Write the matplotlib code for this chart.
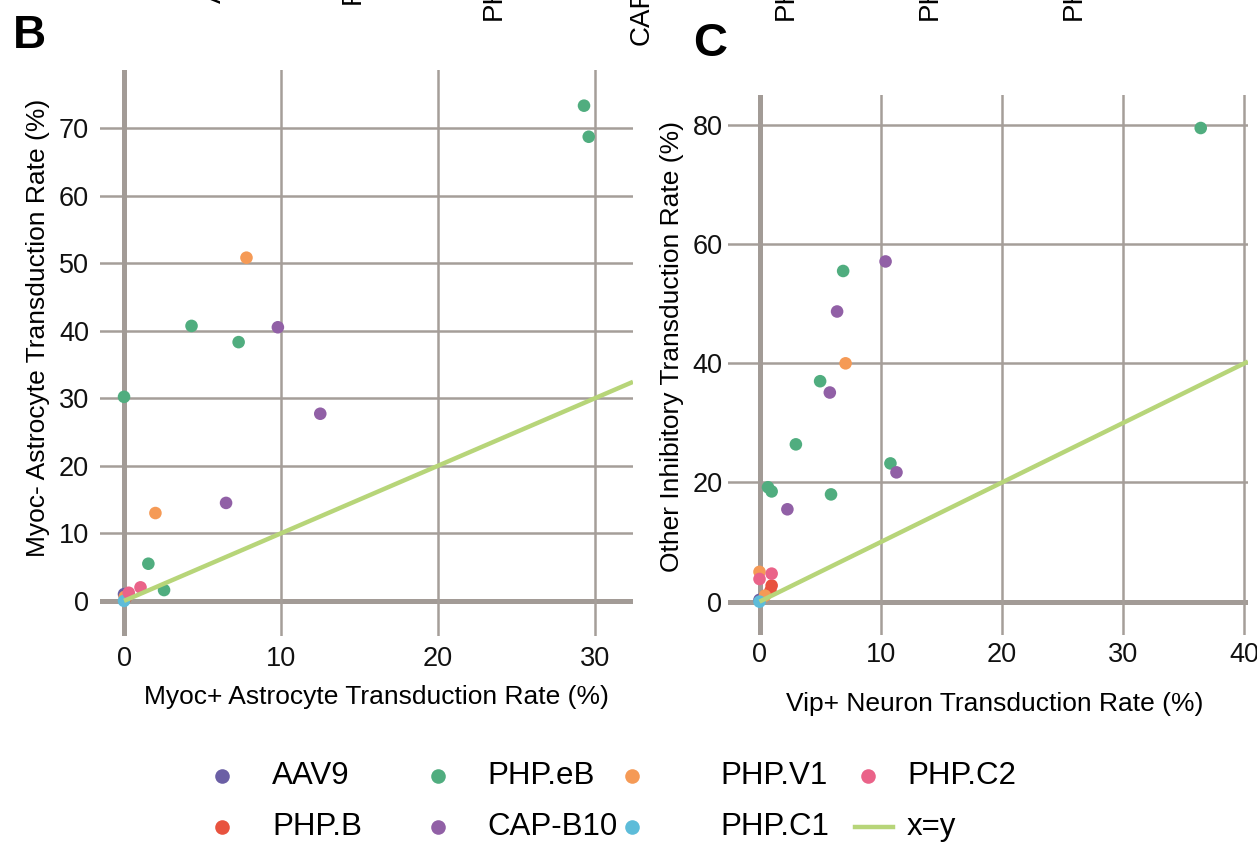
import matplotlib
matplotlib.use("Agg")
import matplotlib.pyplot as plt

plt.rcParams['font.family'] = ['Liberation Sans', 'DejaVu Sans']

W, H = 1257, 846
DPI = 100

# ---------------- data ----------------
variants = ["AAV9", "PHP.B", "PHP.eB", "CAP-B10", "PHP.V1", "PHP.C1", "PHP.C2"]
colors = {
    "AAV9": "#6b5fa5",
    "PHP.B": "#e8533f",
    "PHP.eB": "#50ad7f",
    "CAP-B10": "#9160a6",
    "PHP.V1": "#f59a56",
    "PHP.C1": "#5dbcd9",
    "PHP.C2": "#ea6389",
}

# Panel B: Myoc+ (x) vs Myoc- (y) astrocyte transduction rate (%)
b_x = {
    "AAV9": [0.0],
    "PHP.B": [0.1],
    "PHP.eB": [29.3, 29.6, 4.3, 7.3, 0.0, 1.55, 2.55],
    "CAP-B10": [9.8, 12.5, 6.5],
    "PHP.V1": [7.8, 2.0, 0.05],
    "PHP.C1": [0.0],
    "PHP.C2": [1.05, 0.3],
}
b_y = {
    "AAV9": [1.0],
    "PHP.B": [0.4],
    "PHP.eB": [73.3, 68.7, 40.7, 38.3, 30.2, 5.5, 1.6],
    "CAP-B10": [40.5, 27.7, 14.5],
    "PHP.V1": [50.8, 13.0, 0.6],
    "PHP.C1": [0.0],
    "PHP.C2": [2.0, 1.2],
}

# Panel C: Vip+ neuron (x) vs other inhibitory (y) transduction rate (%)
c_x = {
    "AAV9": [0.0],
    "PHP.B": [1.0, 0.9],
    "PHP.eB": [36.4, 6.9, 5.0, 3.0, 0.7, 1.0, 5.9, 10.8],
    "CAP-B10": [10.4, 6.4, 5.8, 2.3, 11.3],
    "PHP.V1": [7.1, 0.0, 0.45],
    "PHP.C1": [0.0],
    "PHP.C2": [0.0, 1.0],
}
c_y = {
    "AAV9": [0.3],
    "PHP.B": [2.7, 1.8],
    "PHP.eB": [79.5, 55.5, 37.0, 26.4, 19.2, 18.5, 18.0, 23.2],
    "CAP-B10": [57.1, 48.7, 35.1, 15.5, 21.7],
    "PHP.V1": [40.0, 5.0, 1.0],
    "PHP.C1": [0.0],
    "PHP.C2": [3.8, 4.7],
}

b_xticks = [0, 10, 20, 30]
b_yticks = [0, 10, 20, 30, 40, 50, 60, 70]
c_xticks = [0, 10, 20, 30, 40]
c_yticks = [0, 20, 40, 60, 80]

b_xlabel = "Myoc+ Astrocyte Transduction Rate (%)"
b_ylabel = "Myoc- Astrocyte Transduction Rate (%)"
c_xlabel = "Vip+ Neuron Transduction Rate (%)"
c_ylabel = "Other Inhibitory Transduction Rate (%)"

top_labels = ["AAV9", "PHP.B", "PHP.eB", "CAP-B10", "PHP.V1", "PHP.C1", "PHP.C2"]

# ---------------- style ----------------
GRID = "#a59e99"
GRID0 = "#a29b96"
LINE = "#b7d579"
TICK_FS = 19.5
LABEL_FS = 19
LEG_FS = 22.5

fig = plt.figure(figsize=(W / DPI, H / DPI), dpi=DPI)


def px_axes(l, r, t, b):
    return fig.add_axes([l / W, 1 - b / H, (r - l) / W, (b - t) / H])


def panel(ax, xs, ys, xticks, yticks, xlim, ylim, xpad, ypad):
    ax.set_xlim(*xlim)
    ax.set_ylim(*ylim)
    for s in ax.spines.values():
        s.set_visible(False)
    for t in yticks:
        if t == 0:
            ax.axhline(t, color=GRID0, lw=3.6, zorder=1)
        else:
            ax.axhline(t, color=GRID, lw=1.8, zorder=1)
    for t in xticks:
        if t == 0:
            ax.axvline(t, color=GRID0, lw=3.6, zorder=1)
        else:
            ax.axvline(t, color=GRID, lw=1.8, zorder=1)
    ax.set_xticks(xticks)
    ax.set_yticks(yticks)
    ax.tick_params(length=0, labelsize=TICK_FS, colors="#111111")
    ax.tick_params(axis="x", pad=xpad)
    ax.tick_params(axis="y", pad=ypad)
    for v in variants:
        ax.scatter(xs[v], ys[v], s=82, color=colors[v], edgecolors="none",
                   zorder=3, clip_on=False)
    ax.plot([0, xlim[1]], [0, xlim[1]], color=LINE, lw=3.2, zorder=4,
            solid_capstyle="butt")


axB = px_axes(100, 633, 70, 636)
panel(axB, b_x, b_y, b_xticks, b_yticks, (-1.53, 32.42), (-5.2, 78.58), 7, 8)

axC = px_axes(728, 1248, 95, 635)
panel(axC, c_x, c_y, c_xticks, c_yticks, (-2.6, 40.3), (-5.6, 85.04), 5, 4)

# axis labels
fig.text(376 / W, 1 - 697 / H, b_xlabel, ha="center", va="center", fontsize=LABEL_FS)
fig.text(38 / W, 1 - 328 / H, b_ylabel, ha="center", va="center", fontsize=LABEL_FS, rotation=90)
fig.text(995 / W, 1 - 704 / H, c_xlabel, ha="center", va="center", fontsize=LABEL_FS)
fig.text(672 / W, 1 - 347 / H, c_ylabel, ha="center", va="center", fontsize=LABEL_FS, rotation=90)

# panel letters
fig.text(13 / W, 1 - 48 / H, "B", fontsize=33, fontweight="bold", ha="left", va="baseline")
fig.text(693 / W, 1 - 56 / H, "C", fontsize=34, fontweight="bold", ha="left", va="baseline")

# cut-off tick labels of the panel above
top_x = [214, 353, 494, 642, 786, 930, 1074]
top_b = [3, 4, 20, 45, 20, 20, 20]
for lab, x, b in zip(top_labels, top_x, top_b):
    fig.text(x / W, 1 - b / H, lab, rotation=90, ha="center", va="bottom", fontsize=20)

# legend
legax = fig.add_axes([0, 0, 1, 1])
legax.set_xlim(0, W)
legax.set_ylim(H, 0)
legax.axis("off")
order = ["AAV9", "PHP.B", "PHP.eB", "CAP-B10", "PHP.V1", "PHP.C1", "PHP.C2"]
col_mx = [222, 438, 632, 868]
col_tx = [272, 487, 720, 907]
row_y = [776, 827]
for i, v in enumerate(order):
    c, r = divmod(i, 2)
    legax.plot([col_mx[c]], [row_y[r]], "o", ms=10.5, color=colors[v], mec="none")
    legax.text(col_tx[c], row_y[r], v, ha="left", va="center", fontsize=LEG_FS)
legax.plot([855, 893], [row_y[1], row_y[1]], color=LINE, lw=3.2)
legax.text(907, row_y[1], "x=y", ha="left", va="center", fontsize=LEG_FS)

fig.savefig("out.png", dpi=DPI)
